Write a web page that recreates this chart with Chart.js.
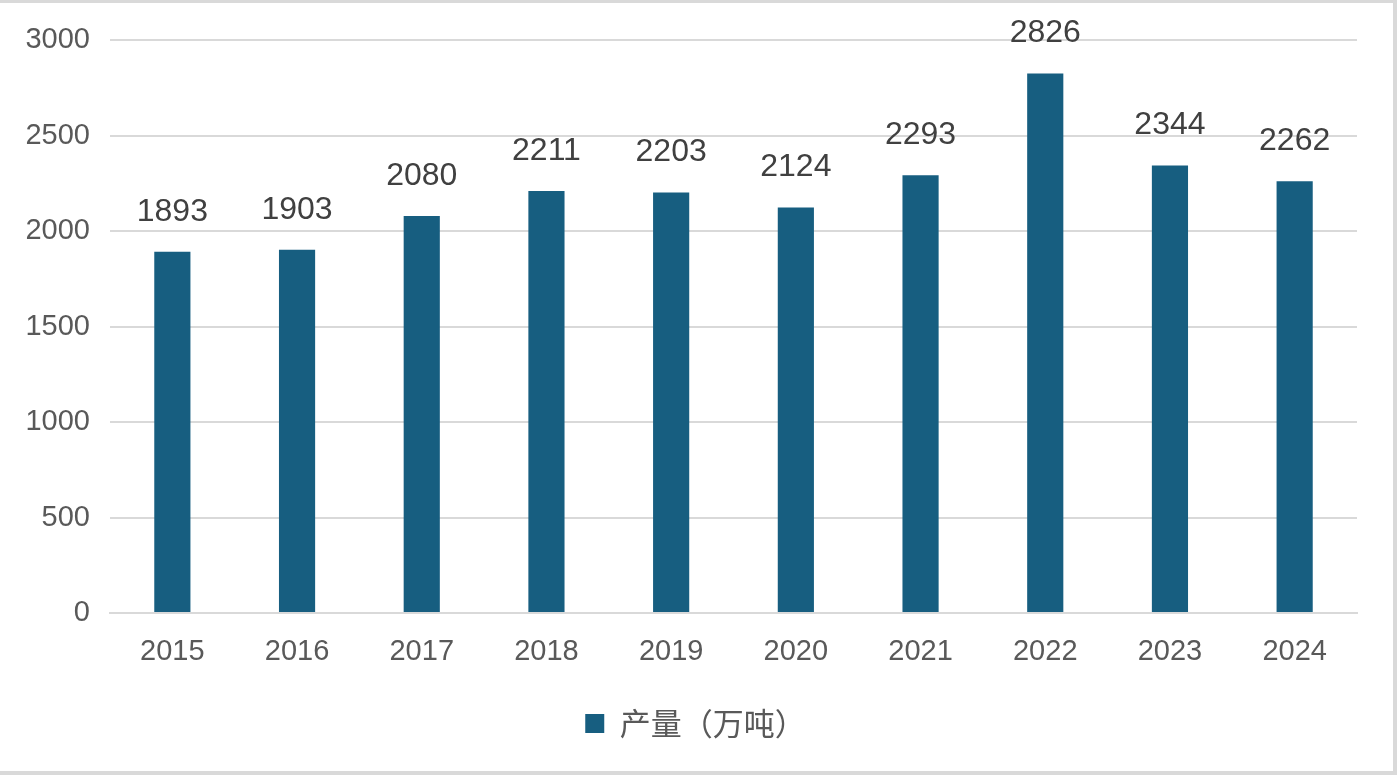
<!DOCTYPE html>
<html><head><meta charset="utf-8">
<script src="https://cdn.jsdelivr.net/npm/chart.js@4"></script>
<style>
html,body{margin:0;padding:0;background:#d9d9d9;width:1397px;height:775px;overflow:hidden}
#wrap{position:absolute;left:0;top:3px;width:1393px;height:768px;background:#fff}
</style></head><body>
<div id="wrap"><canvas id="c"></canvas></div>
<script>
const categories = ["2015","2016","2017","2018","2019","2020","2021","2022","2023","2024"];
const production = [1893,1903,2080,2211,2203,2124,2293,2826,2344,2262];
const yTicks = [0,500,1000,1500,2000,2500,3000];
const seriesName = "产量（万吨）";

const FONT = "'Liberation Sans', 'Noto Sans CJK SC', sans-serif";
const labelPlugin = {
  id:'valueLabels',
  afterLayout(chart){
    if (chart.legend) { chart.legend.left += 17; chart.legend.right += 17; }
  },
  afterDatasetsDraw(chart){
    const ctx = chart.ctx;
    const meta = chart.getDatasetMeta(0);
    ctx.save();
    ctx.font = "32px " + FONT;
    ctx.fillStyle = "#404040";
    ctx.textAlign = "center";
    ctx.textBaseline = "middle";
    meta.data.forEach((bar,i)=>{
      ctx.fillText(String(production[i]), bar.x, bar.y - 40);
    });
    ctx.restore();
  }
};

new Chart(document.getElementById('c'), {
  type:'bar',
  data:{labels:categories, datasets:[{label:seriesName, data:production, backgroundColor:'#175e80', categoryPercentage:1, barPercentage:0.29}]},
  options:{
    responsive:true, maintainAspectRatio:false, animation:false,
    layout:{padding:{top:37,right:36,left:0,bottom:22}},
    plugins:{
      tooltip:{enabled:false},
      legend:{position:'bottom', labels:{font:{size:31,family:"'Noto Sans CJK SC', sans-serif"}, color:'#595959', boxWidth:19, boxHeight:19, padding:15}}
    },
    scales:{
      x:{
        grid:{display:false},
        border:{color:'#d9d9d9', width:2},
        ticks:{font:{size:29,family:FONT}, color:'#595959', padding:14},
        afterFit(s){ s.height = 80; }
      },
      y:{
        min:0,max:3000,
        afterBuildTicks(s){ s.ticks = yTicks.map(v=>({value:v})); },
        grid:{color:'#d9d9d9', lineWidth:2, drawTicks:false},
        border:{display:false},
        ticks:{font:{size:29,family:FONT}, color:'#595959', padding:20, callback:(v)=>String(v)},
        afterFit(s){ s.width = 110; }
      }
    }
  },
  plugins:[labelPlugin]
});
</script>
</body></html>
